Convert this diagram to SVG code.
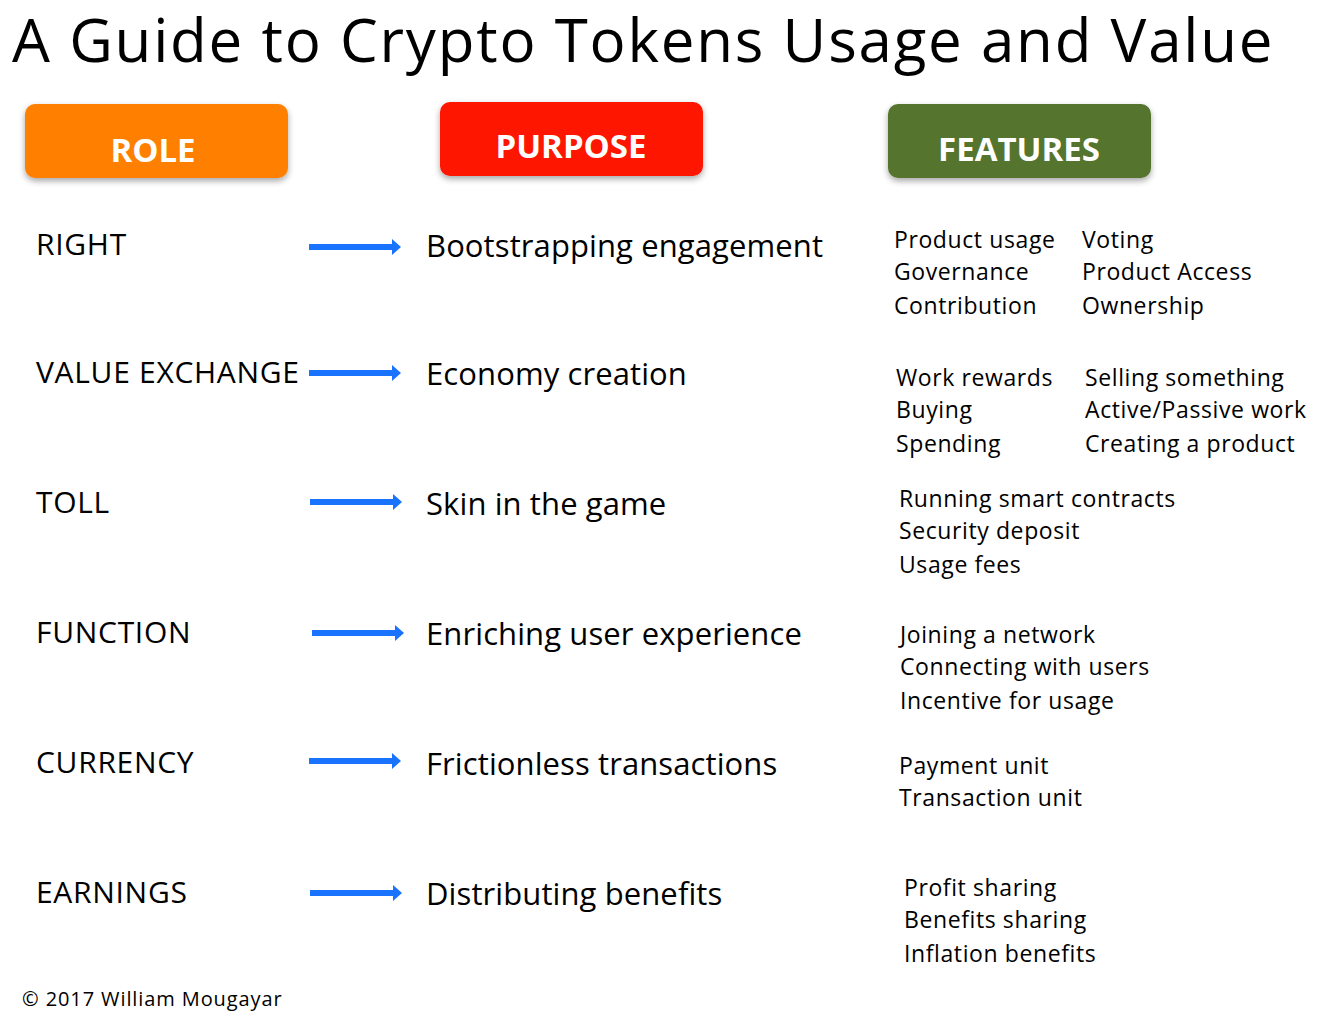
<svg xmlns="http://www.w3.org/2000/svg" width="1327" height="1014" viewBox="0 0 1327 1014">
<style>
text{font-family:"Open Sans","Noto Sans",sans-serif;fill:#000}
.t{font-size:60px;letter-spacing:1.8px}
.h{font-size:33px;font-weight:bold;fill:#fff;text-anchor:middle}
.r{font-size:30px;letter-spacing:0.7px}
.p{font-size:31px;letter-spacing:0.1px}
.f{font-size:23px;letter-spacing:0.6px}
.c{font-size:20px;letter-spacing:0.9px}
.ar{fill:#1a73ff}
</style>
<defs>
<filter id="sh" x="-10%" y="-10%" width="120%" height="130%"><feDropShadow dx="0" dy="3" stdDeviation="3" flood-opacity="0.35"/></filter>
<path id="arw" class="ar" d="M0,-3 H83 V-8 L92,0 L83,8 V3 H0 Z"/>
</defs>
<rect width="1327" height="1014" fill="#fff"/>
<text class="t" x="12" y="62">A Guide to Crypto Tokens Usage and Value</text>
<g id="h-role"><rect x="25" y="104" width="263" height="74" rx="10" fill="#ff7f00" filter="url(#sh)"/><text class="h" x="153" y="162">ROLE</text></g>
<g id="h-purpose"><rect x="440" y="102" width="263" height="74" rx="10" fill="#ff1200" filter="url(#sh)"/><text class="h" x="571" y="158">PURPOSE</text></g>
<g id="h-features"><rect x="888" y="104" width="263" height="74" rx="10" fill="#55752e" filter="url(#sh)"/><text class="h" x="1019" y="161">FEATURES</text></g>
<g id="connectors">
<use href="#arw" x="309" y="247"/>
<use href="#arw" x="309" y="373"/>
<use href="#arw" x="310" y="502"/>
<use href="#arw" x="312" y="633"/>
<use href="#arw" x="309" y="761"/>
<use href="#arw" x="310" y="893"/>
</g>
<g id="row1"><text class="r" x="36" y="255">RIGHT</text><text class="p" x="426" y="257">Bootstrapping engagement</text>
<text class="f" x="894" y="248">Product usage</text><text class="f" x="894" y="280">Governance</text><text class="f" x="894" y="314">Contribution</text>
<text class="f" x="1082" y="248">Voting</text><text class="f" x="1082" y="280">Product Access</text><text class="f" x="1082" y="314">Ownership</text></g>
<g id="row2"><text class="r" x="36" y="383">VALUE EXCHANGE</text><text class="p" x="426" y="385">Economy creation</text>
<text class="f" x="896" y="386">Work rewards</text><text class="f" x="896" y="418">Buying</text><text class="f" x="896" y="452">Spending</text>
<text class="f" x="1085" y="386">Selling something</text><text class="f" x="1085" y="418">Active/Passive work</text><text class="f" x="1085" y="452">Creating a product</text></g>
<g id="row3"><text class="r" x="36" y="513">TOLL</text><text class="p" x="426" y="515">Skin in the game</text>
<text class="f" x="899" y="507">Running smart contracts</text><text class="f" x="899" y="539">Security deposit</text><text class="f" x="899" y="573">Usage fees</text></g>
<g id="row4"><text class="r" x="36" y="643">FUNCTION</text><text class="p" x="426" y="645">Enriching user experience</text>
<text class="f" x="900" y="643">Joining a network</text><text class="f" x="900" y="675">Connecting with users</text><text class="f" x="900" y="709">Incentive for usage</text></g>
<g id="row5"><text class="r" x="36" y="773">CURRENCY</text><text class="p" x="426" y="775">Frictionless transactions</text>
<text class="f" x="899" y="774">Payment unit</text><text class="f" x="899" y="806">Transaction unit</text></g>
<g id="row6"><text class="r" x="36" y="903">EARNINGS</text><text class="p" x="426" y="905">Distributing benefits</text>
<text class="f" x="904" y="896">Profit sharing</text><text class="f" x="904" y="928">Benefits sharing</text><text class="f" x="904" y="962">Inflation benefits</text></g>
<text class="c" x="22" y="1006">© 2017 William Mougayar</text>
</svg>
